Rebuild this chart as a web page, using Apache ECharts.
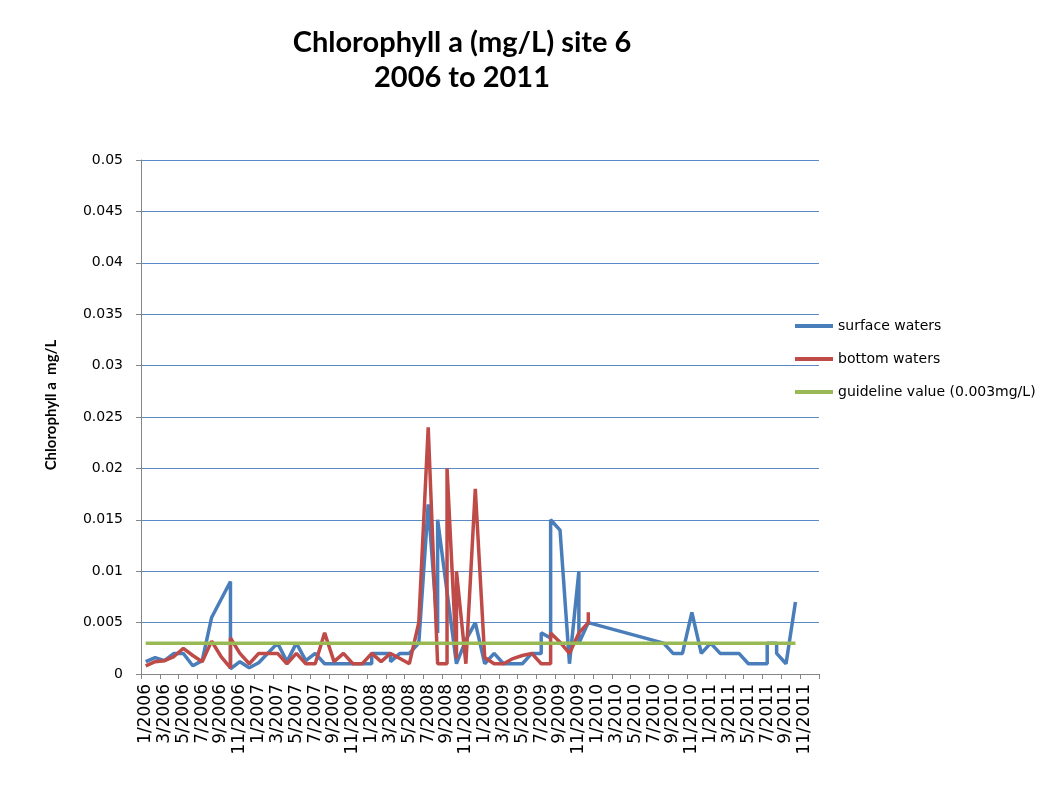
<!DOCTYPE html>
<html>
<head>
<meta charset="utf-8">
<title>Chlorophyll a site 6</title>
<script src="https://cdn.jsdelivr.net/npm/echarts@6/dist/echarts.min.js"></script>
<style>
    html, body { margin: 0; padding: 0; background: #fff; }
    #frame { position: absolute; left: 7px; top: 0; width: 1px; height: 791px; background: #868686; }
    #container { position: absolute; left: 0; top: 0; width: 1046px; height: 791px; }
</style>
</head>
<body>
<div id="frame"></div>
<div id="container"></div>
<script>
// month slots on the x axis, 1/2006 .. 12/2011
var months = []
for (let y = 2006; y <= 2011; y++) {
    for (let m = 1; m <= 12; m++) {
        months.push(m + '/' + y)
    }
}

// surface waters (blue)
var surfaceMonths = [
    '1/2006', '2/2006', '3/2006', '4/2006', '5/2006', '6/2006', '7/2006', '8/2006', '10/2006', '10/2006',
    '11/2006', '12/2006', '1/2007', '3/2007', '4/2007', '5/2007', '6/2007', '7/2007', '8/2007', '9/2007',
    '10/2007', '11/2007', '12/2007', '1/2008', '1/2008', '2/2008', '3/2008', '3/2008', '4/2008', '5/2008',
    '6/2008', '7/2008', '8/2008', '8/2008', '9/2008', '10/2008', '11/2008', '12/2008', '1/2009', '2/2009',
    '3/2009', '4/2009', '5/2009', '6/2009', '7/2009', '7/2009', '8/2009', '8/2009', '9/2009', '10/2009',
    '11/2009', '11/2009', '12/2009', '8/2010', '9/2010', '10/2010', '11/2010', '12/2010', '1/2011', '2/2011',
    '3/2011', '4/2011', '5/2011', '6/2011', '7/2011', '7/2011', '8/2011', '8/2011', '9/2011', '10/2011'
]
var surfaceValues = [
    0.0012, 0.0016, 0.0013, 0.002, 0.002, 0.0008, 0.0013, 0.0055, 0.009, 0.0005,
    0.0012, 0.0006, 0.0011, 0.003, 0.0012, 0.003, 0.0013, 0.002, 0.001, 0.001,
    0.001, 0.001, 0.001, 0.001, 0.002, 0.002, 0.002, 0.0012, 0.002, 0.002,
    0.003, 0.0165, 0.004, 0.015, 0.008, 0.001, 0.0033, 0.005, 0.001, 0.002,
    0.001, 0.001, 0.001, 0.002, 0.002, 0.004, 0.0035, 0.015, 0.014, 0.001,
    0.010, 0.003, 0.005, 0.003, 0.002, 0.002, 0.006, 0.002, 0.003, 0.002,
    0.002, 0.002, 0.001, 0.001, 0.001, 0.003, 0.003, 0.002, 0.001, 0.007
]

// bottom waters (red)
var bottomMonths = [
    '1/2006', '2/2006', '3/2006', '4/2006', '5/2006', '6/2006', '7/2006', '8/2006', '9/2006', '10/2006',
    '10/2006', '11/2006', '12/2006', '1/2007', '2/2007', '3/2007', '4/2007', '5/2007', '6/2007', '7/2007',
    '8/2007', '9/2007', '10/2007', '11/2007', '12/2007', '1/2008', '2/2008', '3/2008', '4/2008', '5/2008',
    '6/2008', '7/2008', '8/2008', '9/2008', '9/2008', '10/2008', '10/2008', '11/2008', '12/2008', '1/2009',
    '2/2009', '3/2009', '4/2009', '5/2009', '6/2009', '7/2009', '8/2009', '8/2009', '9/2009', '10/2009',
    '11/2009', '12/2009', '12/2009'
]
var bottomValues = [
    0.0008, 0.0012, 0.0013, 0.0017, 0.0025, 0.0018, 0.0012, 0.0032, 0.0017, 0.0006,
    0.0035, 0.002, 0.001, 0.002, 0.002, 0.002, 0.001, 0.002, 0.001, 0.001,
    0.004, 0.0012, 0.002, 0.001, 0.001, 0.002, 0.0012, 0.002, 0.0015, 0.001,
    0.005, 0.024, 0.001, 0.001, 0.020, 0.0015, 0.010, 0.001, 0.018, 0.0016,
    0.001, 0.001, 0.0015, 0.0018, 0.002, 0.001, 0.001, 0.004, 0.0031, 0.002,
    0.004, 0.005, 0.006
]

// guideline value
var guideMonths = ['1/2006', '10/2011']
var guideValues = [0.003, 0.003]

var yTicks = { min: 0, max: 0.05, interval: 0.005 }

function pairs(cats, vals) {
    return cats.map(function(c, i) {
        return [c, vals[i]]
    })
}

var dom = document.getElementById('container')
var myChart = echarts.init(dom, null, { renderer: 'canvas' })

var labelFont = 'DejaVu Sans'

var option = {
    animation: false,
    backgroundColor: '#fff',
    title: {
        text: 'Chlorophyll a (mg/L) site 6\n2006 to 2011',
        left: 457,
        top: 20,
        textAlign: 'center',
        textStyle: {
            fontFamily: 'Lato',
            fontWeight: 'bold',
            fontSize: 29,
            lineHeight: 35,
            color: '#000'
        }
    },
    legend: {
        orient: 'vertical',
        left: 790,
        top: 314,
        itemWidth: 38,
        itemHeight: 4,
        itemGap: 19,
        icon: 'rect',
        textStyle: { fontFamily: labelFont, fontSize: 14, color: '#000' },
        data: ['surface waters', 'bottom waters', 'guideline value (0.003mg/L)']
    },
    grid: {
        left: 141,
        right: 227,
        top: 160,
        bottom: 117
    },
    xAxis: {
        type: 'category',
        data: months,
        boundaryGap: true,
        axisLine: { lineStyle: { color: '#868686', width: 1 } },
        axisTick: { show: true, interval: 1, length: 5, lineStyle: { color: '#868686' } },
        axisLabel: {
            interval: 1,
            rotate: 90,
            margin: 10,
            fontFamily: labelFont,
            fontSize: 17,
            color: '#000'
        },
        splitLine: { show: false }
    },
    yAxis: {
        type: 'value',
        min: yTicks.min,
        max: yTicks.max,
        interval: yTicks.interval,
        name: 'Chlorophyll a  mg/L',
        nameLocation: 'middle',
        nameGap: 82,
        nameTextStyle: {
            fontFamily: 'Lato',
            fontWeight: 'bold',
            fontSize: 15,
            color: '#000',
            padding: [0, 0, 0, 24]
        },
        axisLine: { show: true, lineStyle: { color: '#868686', width: 1 } },
        axisTick: { show: true, length: 5, lineStyle: { color: '#868686' } },
        axisLabel: {
            margin: 18,
            fontFamily: labelFont,
            fontSize: 14,
            color: '#000'
        },
        splitLine: { lineStyle: { color: '#5A8AC6', width: 1 } }
    },
    series: [
        {
            name: 'surface waters',
            type: 'line',
            showSymbol: false,
            symbol: 'none',
            lineStyle: { color: '#4A7EBB', width: 3.5 },
            itemStyle: { color: '#4A7EBB' },
            data: pairs(surfaceMonths, surfaceValues)
        },
        {
            name: 'bottom waters',
            type: 'line',
            showSymbol: false,
            symbol: 'none',
            lineStyle: { color: '#BE4B48', width: 3.5 },
            itemStyle: { color: '#BE4B48' },
            data: pairs(bottomMonths, bottomValues)
        },
        {
            name: 'guideline value (0.003mg/L)',
            type: 'line',
            showSymbol: false,
            symbol: 'none',
            lineStyle: { color: '#98B954', width: 3.5 },
            itemStyle: { color: '#98B954' },
            data: pairs(guideMonths, guideValues)
        }
    ]
}

myChart.setOption(option, true)
</script>
</body>
</html>
